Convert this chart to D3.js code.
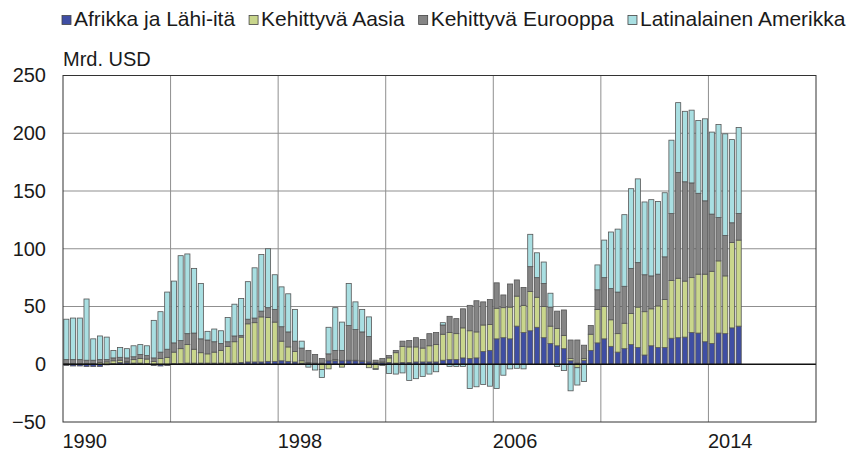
<!DOCTYPE html>
<html><head><meta charset="utf-8">
<script src="https://cdn.jsdelivr.net/npm/d3@7/dist/d3.min.js"></script>
<style>
body{margin:0;background:#fff}
text{font-family:"Liberation Sans",Arial,sans-serif;fill:#1a1a1a}
</style>
</head><body>
<svg id="c" width="856" height="457"></svg>
<script>
// ---- data (Mrd. USD, quarterly 1990Q1 - 2015Q1) ----
const years = d3.range(1990, 2016);
const quarters = [];
years.forEach(y => [1,2,3,4].forEach(q => { if (quarters.length < 101) quarters.push(y + "Q" + q); }));

const seriesNames = ["Afrikka ja Lähi-itä", "Kehittyvä Aasia", "Kehittyvä Eurooppa", "Latinalainen Amerikka"];
const seriesColors = ["#3f4ea4", "#c9d68c", "#858585", "#a9dfe2"];

const afrikka = [-1,-1.5,-1.5,-2,-2,-2,-0.5,0.5,1.5,1.5,1,1,0.5,-1,-1.5,-1,
  0.5,0.5,1,1,1,1,1,1,1,1,1.5,2,2,2,2.5,2.5,
  3,2.5,2,1,1,1,1,3,3,3,3,3,2.5,2,1.5,1.5,
  1.5,1,1.5,1.5,2,2,2,2,3.5,4,4,5.5,5,5.5,11,12,
  22,23,22,33,27.5,29,32,23,18,16,13.5,3,1,3.5,12,18.5,
  22,15.5,10.5,13.5,17,14.5,8,16,14.5,14.5,22.5,23,23.5,27.5,27,19.5,
  18,27,26.5,31.5,33];
const aasia = [0.5,0.5,0.5,0.5,0.5,1.5,2,2.5,2,1,3,4,4,2.5,5,6,
  10,13,16,12,9,8,9.5,11,14.5,18.5,22,33,34,39,38,34,
  17,12.5,9,2,0.5,0,-4.5,-4,1,-2.5,0.5,0.5,0.5,-3,-4,0.5,
  4,9,14,13.5,13,12,14,15,22.5,23.5,22.5,26,24,22.5,23,22.5,
  26.5,26,27.5,26,23.5,34,26,27,15,15,11.5,2,-3,1.5,14,29,
  28,23,16,22,27,35,37.5,32,36,41.5,50,51.5,48.5,47.5,51,58.5,
  62.5,62.5,50,74,74.5];
const eurooppa = [3.5,3.5,3.5,3,3,2.5,2,2.5,2.5,3,2.5,3.5,3,3,5.5,7,
  8,7,9.5,14,12,12,9,6,4,5,1.5,4,4,5,8.5,11,
  12.5,13,9,11,10.5,7.5,4,6,8,9,30,26.5,25,22,2,3,
  2,2,4.5,5.5,8,7.5,10.5,10.5,8,14,13,16.5,22,27,20,21.5,
  22,11,20,14,15.5,21.5,17,20,16.5,15,22,16,20,11.5,7.5,17,
  25,27,36,32,39,38.5,32,28.5,27.5,37,58,91.5,86,82,70,63.5,
  49.5,37.5,35,17,23];
const latin = [35,36,36,53,18.5,20.5,19.5,6.5,8.5,8,9.5,8.5,8.5,32.5,35,49.5,
  53.5,73.5,69,56,48,7.5,11,11,21,27.5,32,32.5,43.5,49,51,30,
  34.5,33,27.5,6,-2.5,-5,-7,23,37,24.5,36.5,24,19.5,17,-0.5,-1,
  -8,-8.5,-7.5,-14,-12.5,-10.5,-8.5,-6.5,2,-2,-2,-2,-21,-19.5,-17.5,-19,
  -21,-9.5,-4,-3.5,-4,28,21.5,18.5,12,-2,-5.5,-23,-15,-15,0,21.5,
  32.5,49,54.5,62,69,72.5,63,66,63,55.5,63.5,60.5,61,63,63,71,
  71,80.5,88,72,74.5];

const yTicks = [-50, 0, 50, 100, 150, 200, 250];
const xGridYears = [1994, 1998, 2002, 2006, 2010, 2014];
const xLabelYears = [1990, 1998, 2006, 2014];

// ---- build table ----
const keys = ["a","b","c","d"];
const table = quarters.map((q, i) => ({q, i, a: afrikka[i], b: aasia[i], c: eurooppa[i], d: latin[i]}));

const svg = d3.select("#c");
const L = 63, R = 816, T = 75.5, B = 422;
const x = d3.scaleLinear().domain([1990, 2018]).range([L, R]);
const y = d3.scaleLinear().domain([-50, 250]).range([B, T]);
const qw = x(1990.25) - x(1990);
const bw = qw * 0.76;

// gridlines
svg.append("g").selectAll("line.h").data(yTicks.filter(d => d !== -50 && d !== 250 && d !== 0))
  .join("line").attr("x1", L).attr("x2", R).attr("y1", d => y(d)).attr("y2", d => y(d))
  .attr("stroke", "#8f8f8f").attr("stroke-width", 1);
svg.append("g").selectAll("line.v").data(xGridYears)
  .join("line").attr("x1", d => x(d)).attr("x2", d => x(d)).attr("y1", T).attr("y2", B)
  .attr("stroke", "#8f8f8f").attr("stroke-width", 1);

// stacked bars
const stack = d3.stack().keys(keys).offset(d3.stackOffsetDiverging);
const layers = stack(table);
svg.append("g").selectAll("g").data(layers).join("g")
  .attr("fill", (d, k) => seriesColors[k])
  .selectAll("rect").data(d => d).join("rect")
  .attr("x", d => x(1990 + d.data.i / 4) + (qw - bw) / 2)
  .attr("width", bw)
  .attr("y", d => y(Math.max(d[0], d[1])))
  .attr("height", d => Math.abs(y(d[0]) - y(d[1])))
  .attr("stroke", "#555").attr("stroke-width", 0.8);

// zero line
svg.append("line").attr("x1", L).attr("x2", R).attr("y1", y(0)).attr("y2", y(0))
  .attr("stroke", "#111").attr("stroke-width", 1.5);

// frame
svg.append("rect").attr("x", L).attr("y", T).attr("width", R - L).attr("height", B - T)
  .attr("fill", "none").attr("stroke", "#333").attr("stroke-width", 1);

// y axis
const ya = svg.append("g").attr("transform", `translate(${L},0)`)
  .call(d3.axisLeft(y).tickValues(yTicks).tickSize(0).tickPadding(17));
ya.select(".domain").remove();
ya.selectAll("text").attr("font-size", 20).style("font-family", '"Liberation Sans",Arial,sans-serif').attr("fill", "#1a1a1a");

// x axis
const xa = svg.append("g").attr("transform", `translate(0,${B})`)
  .call(d3.axisBottom(x).tickValues(xLabelYears).tickFormat(d3.format("d")).tickSize(0));
xa.select(".domain").remove();
xa.selectAll("text").attr("text-anchor", "start").attr("x", -1).attr("y", 26).attr("dy", 0)
  .attr("font-size", 20).style("font-family", '"Liberation Sans",Arial,sans-serif').attr("fill", "#1a1a1a");

// unit label
svg.append("text").attr("x", 63).attr("y", 66).attr("font-size", 20).text("Mrd. USD");

// legend
let lx = 62;
seriesNames.forEach((name, k) => {
  svg.append("rect").attr("x", lx).attr("y", 15.5).attr("width", 9).attr("height", 9)
    .attr("fill", seriesColors[k]).attr("stroke", "#444").attr("stroke-width", 0.8);
  const t = svg.append("text").attr("x", lx + 12).attr("y", 26).attr("font-size", 21).text(name);
  lx += 12 + t.node().getComputedTextLength() + 14;
});
</script>
</body></html>
